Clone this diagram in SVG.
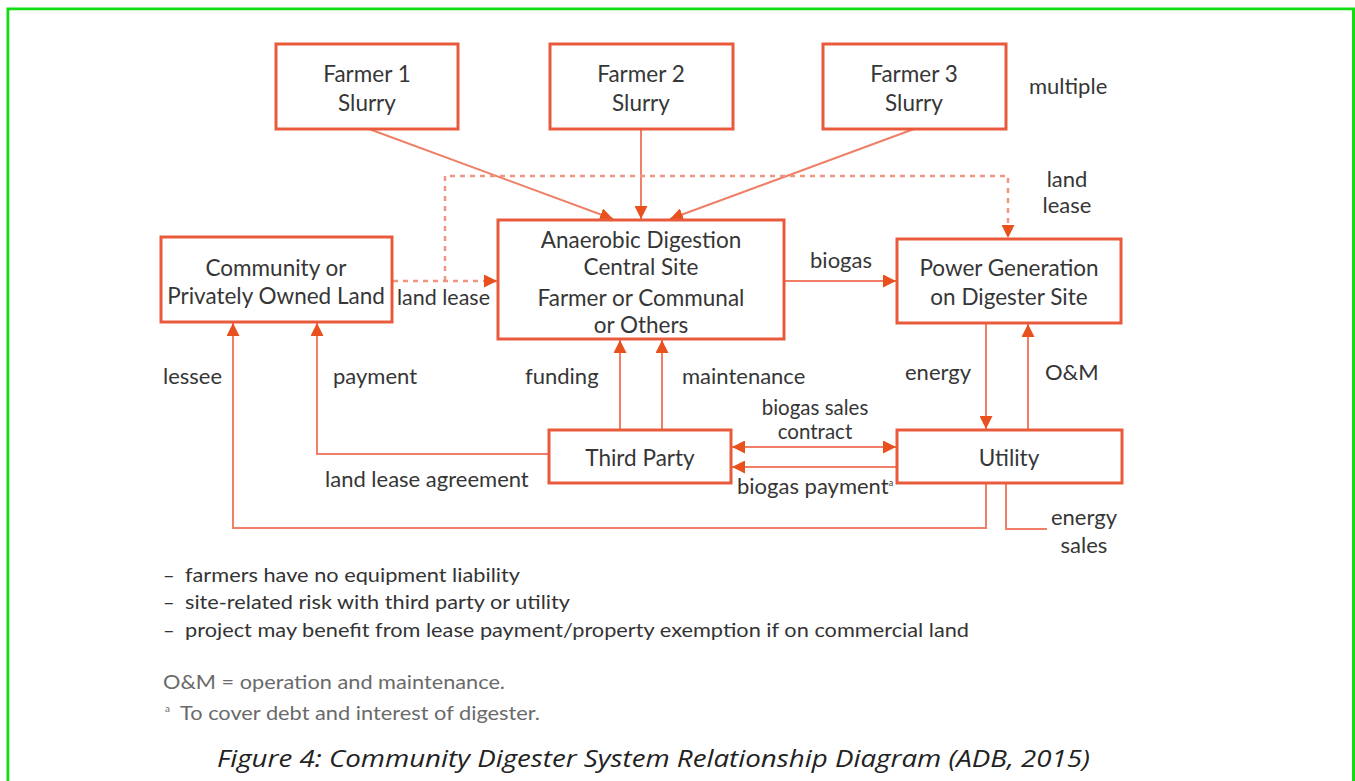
<svg xmlns="http://www.w3.org/2000/svg" width="1355" height="781" viewBox="0 0 1355 781">
<defs>
<style>
.box{fill:#fff;stroke:#e95a3c;stroke-width:3}
.ln{fill:none;stroke:#ef7f66;stroke-width:2}
.dash{fill:none;stroke:#f0957f;stroke-width:2.5;stroke-dasharray:5 5}
text{font-family:Lato,"Open Sans","DejaVu Sans",sans-serif;fill:#363636;font-size:22px}
.c{text-anchor:middle}
.bt{font-size:22.5px}
.sm{font-size:20.5px}
.note{font-size:20px;fill:#333}
.grey{font-size:20px;fill:#6a6a6a}
.sup{font-size:10px;fill:#6a6a6a}
.cap{font-family:"Open Sans",Lato,sans-serif;font-style:italic;font-size:23px;fill:#222}
</style>
<marker id="ahb" viewBox="0 0 10 10" refX="10" refY="5" markerWidth="13" markerHeight="13" orient="auto-start-reverse" markerUnits="userSpaceOnUse">
<path d="M0,0 L10,5 L0,10 Z" fill="#e8501e"/>
</marker>
</defs>
<rect x="8" y="9" width="1345.5" height="800" fill="none" stroke="#11dd11" stroke-width="3"/>
<rect x="9.5" y="10.5" width="1342" height="780" fill="#fff"/>

<g id="connectors">
<line class="ln" x1="369" y1="129" x2="613" y2="219" marker-end="url(#ahb)"/>
<line class="ln" x1="641" y1="129" x2="641" y2="219" marker-end="url(#ahb)"/>
<line class="ln" x1="914" y1="129" x2="670" y2="219" marker-end="url(#ahb)"/>
<line class="dash" x1="393" y1="281" x2="497" y2="281" marker-end="url(#ahb)"/>
<polyline class="dash" points="445,281 445,176 1008,176 1008,238" marker-end="url(#ahb)"/>
<line class="ln" x1="785" y1="281" x2="896" y2="281" marker-end="url(#ahb)"/>
<line class="ln" x1="986" y1="324" x2="986" y2="429" marker-end="url(#ahb)"/>
<line class="ln" x1="1028" y1="429" x2="1028" y2="324" marker-end="url(#ahb)"/>
<line class="ln" x1="620" y1="429" x2="620" y2="340" marker-end="url(#ahb)"/>
<line class="ln" x1="662" y1="429" x2="662" y2="340" marker-end="url(#ahb)"/>
<polyline class="ln" points="548,454 317,454 317,323" marker-end="url(#ahb)"/>
<polyline class="ln" points="986,484 986,528 233,528 233,323" marker-end="url(#ahb)"/>
<polyline class="ln" points="1006,484 1006,529 1047,529"/>
<line class="ln" x1="732" y1="447" x2="896" y2="447" marker-start="url(#ahb)" marker-end="url(#ahb)"/>
<line class="ln" x1="896" y1="467" x2="732" y2="467" marker-end="url(#ahb)"/>
</g>

<g id="farmer1"><rect class="box" x="276" y="44" width="182" height="85"/><text class="c bt" x="367" y="82">Farmer 1</text><text class="c bt" x="367" y="111">Slurry</text></g>
<g id="farmer2"><rect class="box" x="550" y="44" width="183" height="85"/><text class="c bt" x="641" y="82">Farmer 2</text><text class="c bt" x="641" y="111">Slurry</text></g>
<g id="farmer3"><rect class="box" x="823" y="44" width="183" height="85"/><text class="c bt" x="914" y="82">Farmer 3</text><text class="c bt" x="914" y="111">Slurry</text></g>
<g id="community"><rect class="box" x="161" y="237" width="231" height="85"/><text class="c bt" x="276" y="276">Community or</text><text class="c bt" x="276" y="304">Privately Owned Land</text></g>
<g id="digester"><rect class="box" x="498" y="220" width="286" height="119"/><text class="c bt" x="641" y="248">Anaerobic Digestion</text><text class="c bt" x="641" y="275">Central Site</text><text class="c bt" x="641" y="306">Farmer or Communal</text><text class="c bt" x="641" y="333">or Others</text></g>
<g id="power"><rect class="box" x="897" y="239" width="224" height="84"/><text class="c bt" x="1009" y="276">Power Generation</text><text class="c bt" x="1009" y="305">on Digester Site</text></g>
<g id="thirdparty"><rect class="box" x="549" y="430" width="182" height="53"/><text class="c bt" x="640" y="466">Third Party</text></g>
<g id="utility"><rect class="box" x="897" y="430" width="225" height="53"/><text class="c bt" x="1009" y="466">Utility</text></g>

<g id="labels">
<text x="1029" y="94">multiple</text>
<text class="c" x="1067" y="187">land</text>
<text class="c" x="1067" y="213">lease</text>
<text x="397" y="305" textLength="93" lengthAdjust="spacingAndGlyphs">land lease</text>
<text class="c" x="841" y="268">biogas</text>
<text x="163" y="384">lessee</text>
<text x="333" y="384">payment</text>
<text x="525" y="384">funding</text>
<text x="682" y="384">maintenance</text>
<text x="905" y="380">energy</text>
<text x="1045" y="380">O&amp;M</text>
<text class="c sm" x="815" y="415">biogas sales</text>
<text class="c sm" x="815" y="439">contract</text>
<text x="325" y="487">land lease agreement</text>
<text x="737" y="494">biogas payment<tspan font-size="9" dy="-8">a</tspan></text>
<text class="c" x="1084" y="525">energy</text>
<text class="c" x="1084" y="553">sales</text>
</g>

<g id="notes">
<text class="note" x="163" y="582">–</text><text class="note" x="185" y="582" textLength="335" lengthAdjust="spacingAndGlyphs">farmers have no equipment liability</text>
<text class="note" x="163" y="609">–</text><text class="note" x="185" y="609" textLength="385" lengthAdjust="spacingAndGlyphs">site-related risk with third party or utility</text>
<text class="note" x="163" y="637">–</text><text class="note" x="185" y="637" textLength="784" lengthAdjust="spacingAndGlyphs">project may benefit from lease payment/property exemption if on commercial land</text>
<text class="grey" x="163" y="689" textLength="342" lengthAdjust="spacingAndGlyphs">O&amp;M = operation and maintenance.</text>
<text class="sup" x="165" y="712">a</text>
<text class="grey" x="180" y="720" textLength="360" lengthAdjust="spacingAndGlyphs">To cover debt and interest of digester.</text>
<text class="cap" x="217" y="767" textLength="873" lengthAdjust="spacingAndGlyphs">Figure 4: Community Digester System Relationship Diagram (ADB, 2015)</text>
</g>
</svg>
